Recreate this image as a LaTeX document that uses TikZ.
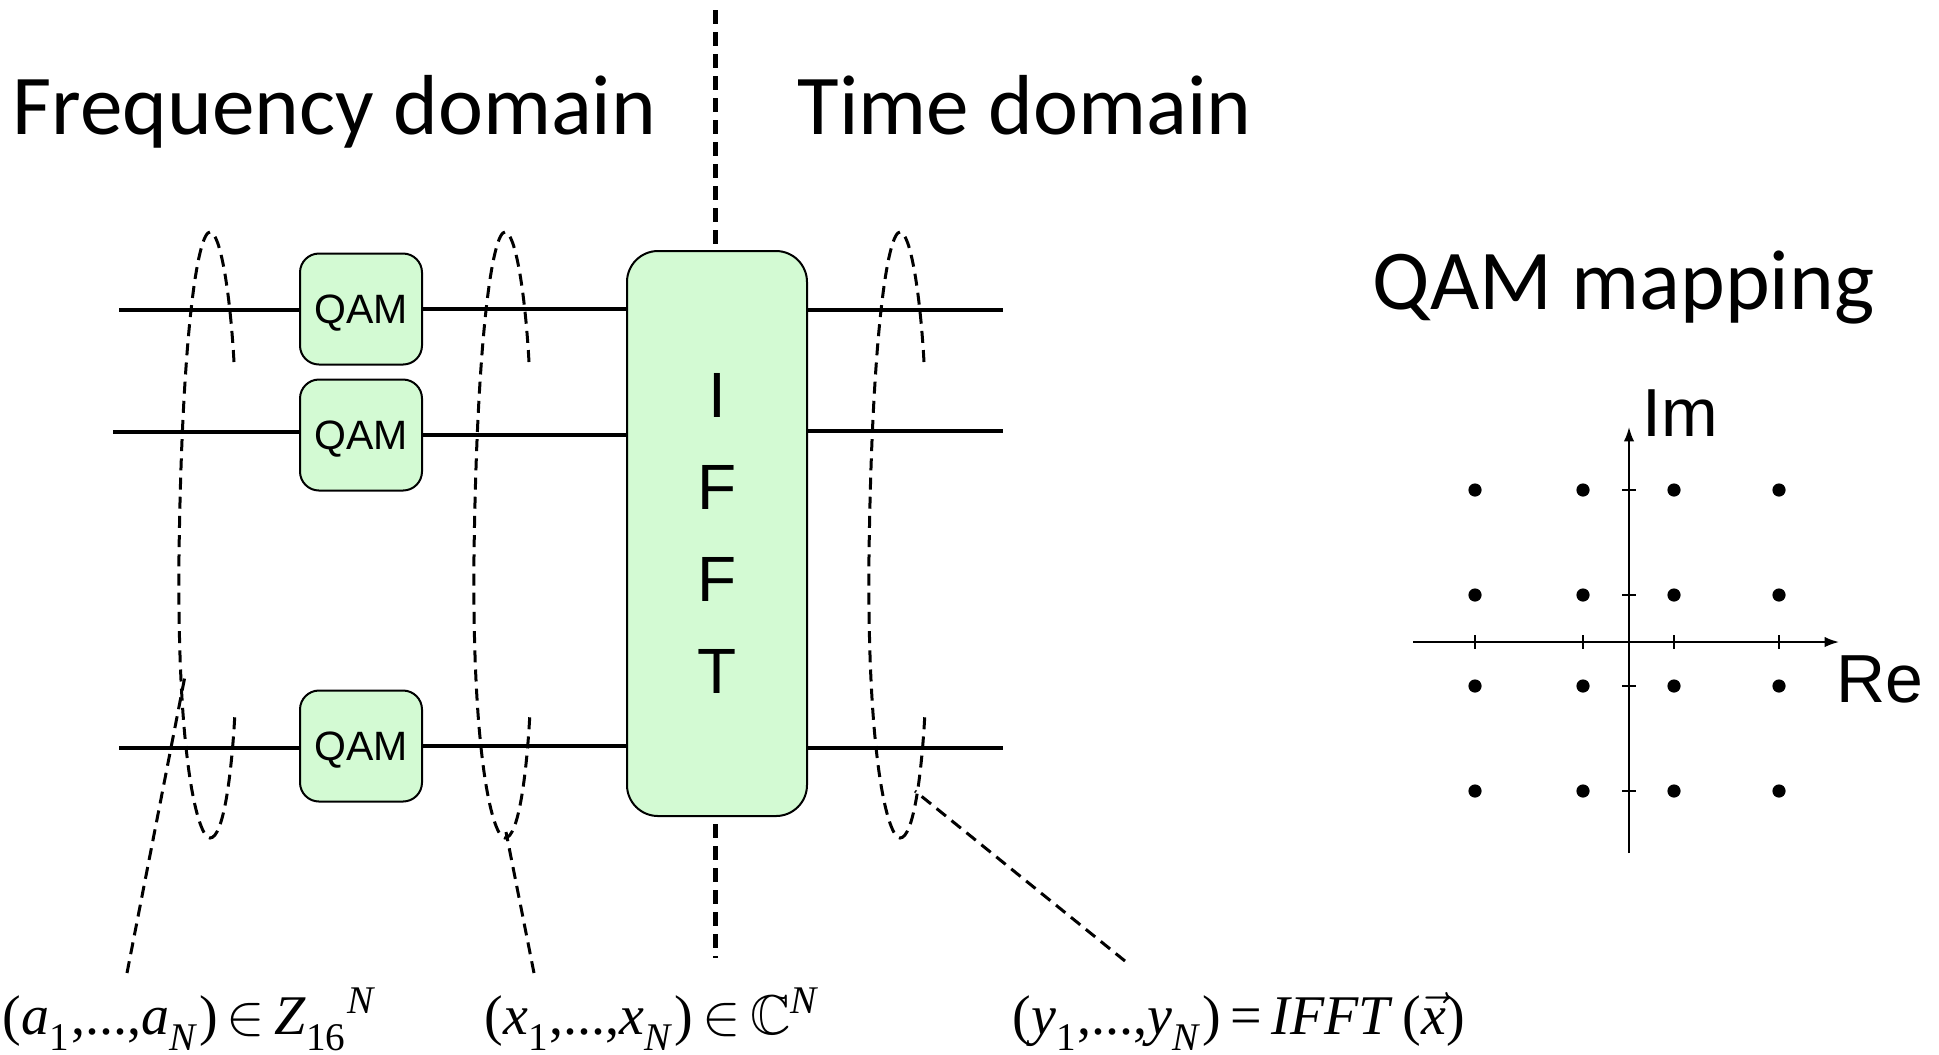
\documentclass[tikz,border=0pt]{standalone}
\usepackage{amsmath}
\usepackage{amssymb}
\usepackage{fontspec}
\usetikzlibrary{arrows.meta}
\newfontfamily\calib{Carlito}
\newfontfamily\arialf{Liberation Sans}
\newfontfamily\tnr{Liberation Serif}
\newcommand\vi[1]{\textit{#1}}
\newcommand\lowsub[1]{\raisebox{-0.3ex}{\textsubscript{#1}}}
\definecolor{boxgreen}{RGB}{211,250,211}
\begin{document}
\begin{tikzpicture}[x=0.25pt,y=-0.25pt,
  ttl/.style={font=\calib\fontsize{21.3}{26}\selectfont, inner sep=0, anchor=base west},
  qambox/.style={draw=black, line width=0.5pt, fill=boxgreen, rounded corners=4.75pt, minimum width=30.5pt, minimum height=27.75pt, inner sep=0, text height=7.4pt, text depth=0pt, font=\arialf\fontsize{10.25}{12}\selectfont},
  ifftbox/.style={draw=black, line width=0.5pt, fill=boxgreen, rounded corners=7.75pt, minimum width=45pt, minimum height=141.25pt, inner sep=0, align=center, font=\arialf\fontsize{16}{23}\selectfont},
  sig/.style={line width=0.9pt},
  grpline/.style={line width=0.75pt, dash pattern=on 3pt off 1.8pt},
  divider/.style={line width=1.25pt, dash pattern=on 3.5pt off 2pt},
  axisarrow/.style={line width=0.45pt, -{Latex[length=3.6pt,width=2.6pt]}},
  tickmark/.style={line width=0.4pt},
  lab/.style={font=\tnr\fontsize{14}{16}\selectfont, inner sep=0, anchor=base west},
  cdot/.style={circle, fill=black, inner sep=0, minimum size=3.3pt},
  axlab/.style={font=\arialf\fontsize{17}{20}\selectfont, inner sep=0, anchor=base west},
  grp/.pic={\draw[grpline] (234,362) .. controls (230,290) and (220,232) .. (210,232)
      .. controls (198,232) and (182,330) .. (179,556)
      .. controls (177,760) and (198,838) .. (210,838)
      .. controls (224,838) and (232,770) .. (235,712);}
]
\useasboundingbox (0,0) rectangle (1939,1054);

% titles
\node[ttl] (tfreq) at (12,134) {Frequency domain};
\node[ttl] (ttime) at (797,134) {Time domain};
\node[ttl] (tqam) at (1372,309) {QAM mapping};

% divider
\coordinate (dtop) at (715,10);
\coordinate (dbot) at (715,958);
\draw[divider] (dtop) -- (dbot);

% boxes
\node[qambox] (qam1) at (361,309) {QAM};
\node[qambox] (qam2) at (361,435) {QAM};
\node[qambox] (qam3) at (361,746) {QAM};
\node[ifftbox] (ifft) at (717,533.5) {I\\F\\F\\T};

% signal lines
\coordinate (in1) at (119,310);
\coordinate (in2) at (113,432);
\coordinate (in3) at (119,748);
\coordinate (out1) at (1003,310);
\coordinate (out2) at (1003,431);
\coordinate (out3) at (1003,748);
\draw[sig] (in1) -- (qam1.west |- in1);
\draw[sig] (in2) -- (qam2.west |- in2);
\draw[sig] (in3) -- (qam3.west |- in3);
\draw[sig] (qam1.east) -- (ifft.west |- qam1.east);
\draw[sig] (qam2.east) -- (ifft.west |- qam2.east);
\draw[sig] (qam3.east) -- (ifft.west |- qam3.east);
\draw[sig] (ifft.east |- out1) -- (out1);
\draw[sig] (ifft.east |- out2) -- (out2);
\draw[sig] (ifft.east |- out3) -- (out3);

% grouping loops
\pic at (0,0) {grp};
\pic at (295,0) {grp};
\pic at (690,0) {grp};

% labels and their leaders
\node[lab] (va) at (2,1034) {(\vi{a}\lowsub{1},...,\vi{a}\lowsub{\vi{N}})\,$\in$\,\vi{Z}\lowsub{16}\textsuperscript{\vi{N}}};
\node[lab] (vb) at (484,1034) {(\vi{x}\lowsub{1},...,\vi{x}\lowsub{\vi{N}})\,$\in$\,$\mathbb{C}$\textsuperscript{\vi{N}}};
\node[lab] (vc) at (1012,1034) {(\vi{y}\lowsub{1},...,\vi{y}\lowsub{\vi{N}})\,=\,\vi{IFFT}\,($\vec{\text{\tnr\itshape x}}$)};
\coordinate (la) at (127,973); \coordinate (ta) at (185,676);
\coordinate (lb) at (534,973); \coordinate (tb) at (506,832);
\coordinate (lc) at (1125,961); \coordinate (tc) at (915,791);
\draw[grpline] (la) -- (ta);
\draw[grpline] (lb) -- (tb);
\draw[grpline] (lc) -- (tc);

% constellation
\coordinate (xa) at (1413,642); \coordinate (xb) at (1839,642);
\coordinate (ya) at (1629,853); \coordinate (yb) at (1629,427);
\draw[axisarrow] (xa) -- (xb);
\draw[axisarrow] (ya) -- (yb);
\foreach \xx in {1475,1583,1674,1779} \draw[tickmark] (\xx,635) -- (\xx,649);
\foreach \yy in {490,595,686,791} \draw[tickmark] (1622,\yy) -- (1636,\yy);
\foreach \xx [count=\i] in {1475,1583,1674,1779}
  \foreach \yy [count=\j] in {490,595,686,791}
    \node[cdot] (d\i\j) at (\xx,\yy) {};
\node[axlab] (im) at (1642,436) {Im};
\node[axlab] (re) at (1836,702) {Re};
\end{tikzpicture}
\end{document}
